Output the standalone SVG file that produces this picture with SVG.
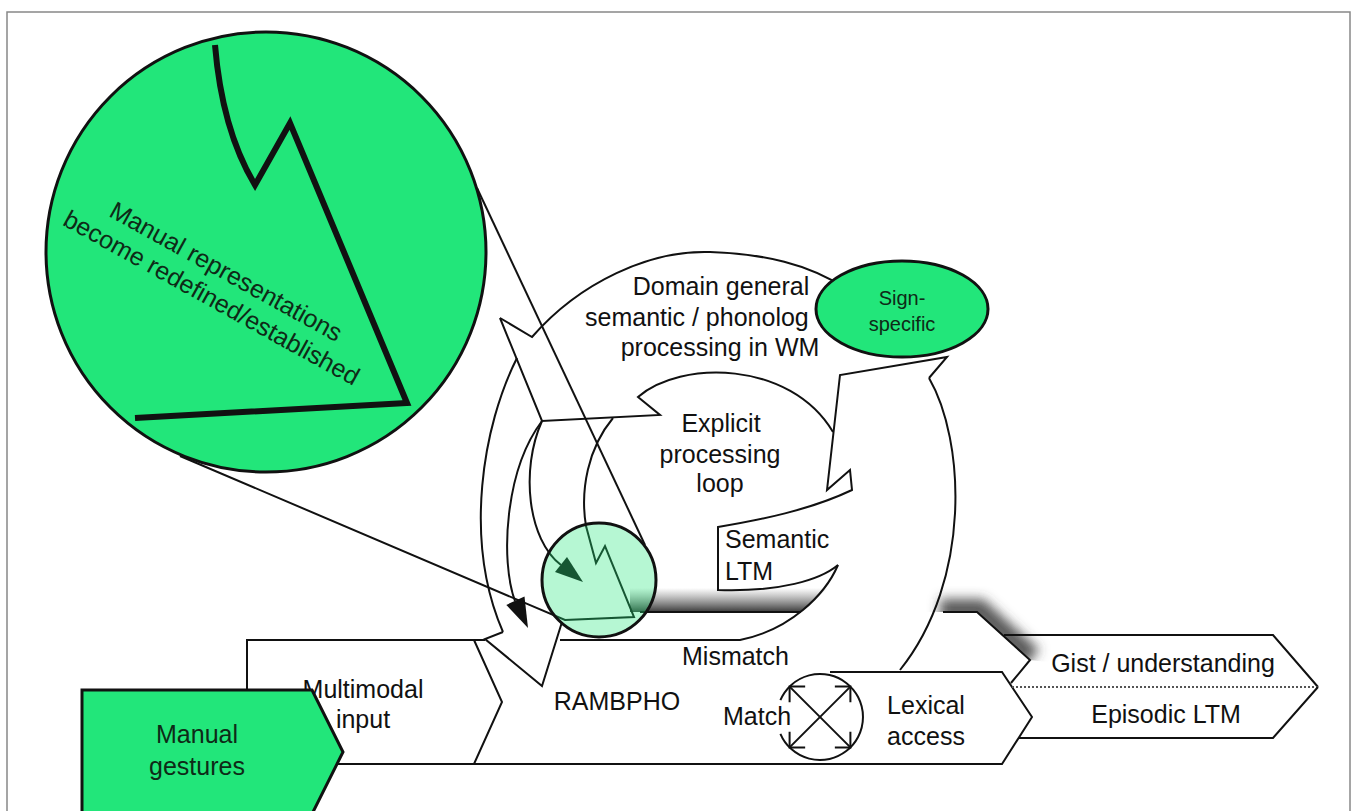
<svg xmlns="http://www.w3.org/2000/svg" width="1358" height="811" viewBox="0 0 1358 811">
<defs>
<style>
.o{fill:none;stroke:#111;stroke-width:2;stroke-linejoin:miter}
.t{font-family:"Liberation Sans",Arial,Helvetica,sans-serif;font-size:25px;fill:#111}
.c{text-anchor:middle}
.g{fill:#22e67a;stroke:#111;stroke-width:3}
.gt{fill:#0e2a17}
</style>
<linearGradient id="sh" x1="0" y1="0" x2="0" y2="1">
<stop offset="0" stop-color="#666" stop-opacity="0"/>
<stop offset="1" stop-color="#3a3a3a" stop-opacity="1"/>
</linearGradient>
<filter id="bl" x="-50%" y="-50%" width="200%" height="200%"><feGaussianBlur stdDeviation="6"/></filter>
<clipPath id="rc"><polygon points="925,560 1000,560 1075,630 1075,665 1030,660 977,612 925,612"/></clipPath>
<marker id="oa" viewBox="-13 -13 15 26" markerWidth="15" markerHeight="26" refX="0" refY="0" orient="auto-start-reverse" markerUnits="userSpaceOnUse"><path d="M-11,-11 L0,0 L-11,11" fill="none" stroke="#111" stroke-width="2"/></marker>
</defs>
<rect x="7" y="12" width="1343" height="820" fill="#fff" stroke="#888" stroke-width="1.5"/>

<g id="shadows">
<polygon points="630,588 828,588 800,612 630,612" fill="url(#sh)"/>
<g clip-path="url(#rc)"><path d="M940,610 L979,610 L1032,658" fill="none" stroke="#3c3c3c" stroke-width="22" stroke-opacity="0.85" filter="url(#bl)"/></g>
</g>

<g id="connectors">
<path class="o" d="M500,318 L532,337 C580,282 650,250 710,252 C765,254 808,264 845,288"/>
<path class="o" d="M500,318 L542,421 L660,415 L638,397 C680,360 790,360 833,432"/>
<path class="o" d="M517,358 C483,425 463,540 503,632"/>
<path class="o" d="M542,421 C505,470 500,560 515,601"/>
<polygon points="528,628 524.5,596.5 506.3,604.9" fill="#111"/>
<path class="o" d="M542,421 C520,470 528,540 561,565"/>
<polygon points="583,582 555,572 567,557" fill="#111"/>
<path class="o" d="M613,418 C588,448 580,490 586,526 L596,563 L605,546 L634,617 L565,620 L180,456"/>
<path class="o" d="M477,188 L645,545"/>
<path class="o" d="M640,612 L801,612"/>
<path class="o" d="M943,612 L977,612 L1030,660 L1011,683"/>
</g>

<g id="domain-general">
<path class="o" d="M503,632 L485,639 L542,686 L562,622"/>
<path class="o" d="M560,640 L740,640 C790,630 825,595 838,565"/>
<path class="o" d="M929,378 C965,440 972,580 900,670"/>
<text class="t c" x="721" y="295">Domain general</text>
<text class="t" x="585" y="326">semantic / phonolog</text>
<text class="t c" x="720" y="356">processing in WM</text>
</g>

<g id="explicit-loop">
<text class="t c" x="721" y="432">Explicit</text>
<text class="t c" x="720" y="463">processing</text>
<text class="t c" x="720" y="492">loop</text>
</g>

<g id="semantic-ltm">
<path class="o" d="M838,565 C820,580 780,592 718,590 L718,527 C760,520 810,510 852,490 L850,470 L827,490 L840,375 L947,357 L929,378"/>
<text class="t" x="725" y="548">Semantic</text>
<text class="t" x="725" y="580">LTM</text>
</g>

<g id="multimodal-input">
<path class="o" d="M247,690 L247,640 L485,640"/>
<path class="o" d="M474,640 L502,702 L474,764"/>
<text class="t c" x="363" y="698">Multimodal</text>
<text class="t c" x="363" y="728">input</text>
</g>

<g id="rambpho">
<text class="t c" x="617" y="710">RAMBPHO</text>
<text class="t" x="682" y="665">Mismatch</text>
</g>

<g id="match">
<path class="o" d="M780.4,700.2 A43,43 0 1 1 780.4,733.8"/>
<path class="o" d="M789.6,686.6 L850.4,747.4" marker-start="url(#oa)" marker-end="url(#oa)"/>
<path class="o" d="M789.6,747.4 L850.4,686.6" marker-start="url(#oa)" marker-end="url(#oa)"/>
<text class="t" x="723" y="725">Match</text>
</g>

<g id="lexical-access">
<path class="o" d="M330,764 L1002,764 L1032,717 L1002,672 L830,672"/>
<text class="t c" x="926" y="714">Lexical</text>
<text class="t c" x="926" y="745">access</text>
</g>

<g id="gist">
<path class="o" d="M1004,635 L1273,635 L1318,687"/>
<path d="M1012,687 L1318,687" fill="none" stroke="#555" stroke-width="2" stroke-dasharray="2 2"/>
<text class="t c" x="1163" y="672">Gist / understanding</text>
</g>

<g id="episodic-ltm">
<path class="o" d="M1318,687 L1273,738 L1018,738"/>
<text class="t c" x="1166" y="723">Episodic LTM</text>
</g>

<g id="manual-gestures">
<polygon class="g" points="82,690 312,690 343,752 312,814 82,814"/>
<text class="t c gt" x="197" y="743">Manual</text>
<text class="t c gt" x="197" y="775">gestures</text>
</g>

<g id="sign-specific">
<ellipse class="g" cx="902" cy="309" rx="86" ry="48"/>
<text class="t c gt" x="902" y="305" style="font-size:20px">Sign-</text>
<text class="t c gt" x="902" y="331" style="font-size:20px">specific</text>
</g>

<g id="big-circle">
<circle class="g" cx="266" cy="252" r="220" stroke-width="2.5"/>
<path d="M215,45 Q222,130 255,185 L290,123 L407,403 L135,418" fill="none" stroke="#111" stroke-width="6" stroke-linejoin="miter"/>
<text class="t c gt" transform="translate(222,279) rotate(29)"><tspan x="0" y="0">Manual representations</tspan><tspan x="0" y="30">become redefined/established</tspan></text>
</g>

<g id="small-circle">
<circle cx="599" cy="580" r="57" fill="#22e67a" fill-opacity="0.33" stroke="#111" stroke-width="3"/>
</g>
</svg>
